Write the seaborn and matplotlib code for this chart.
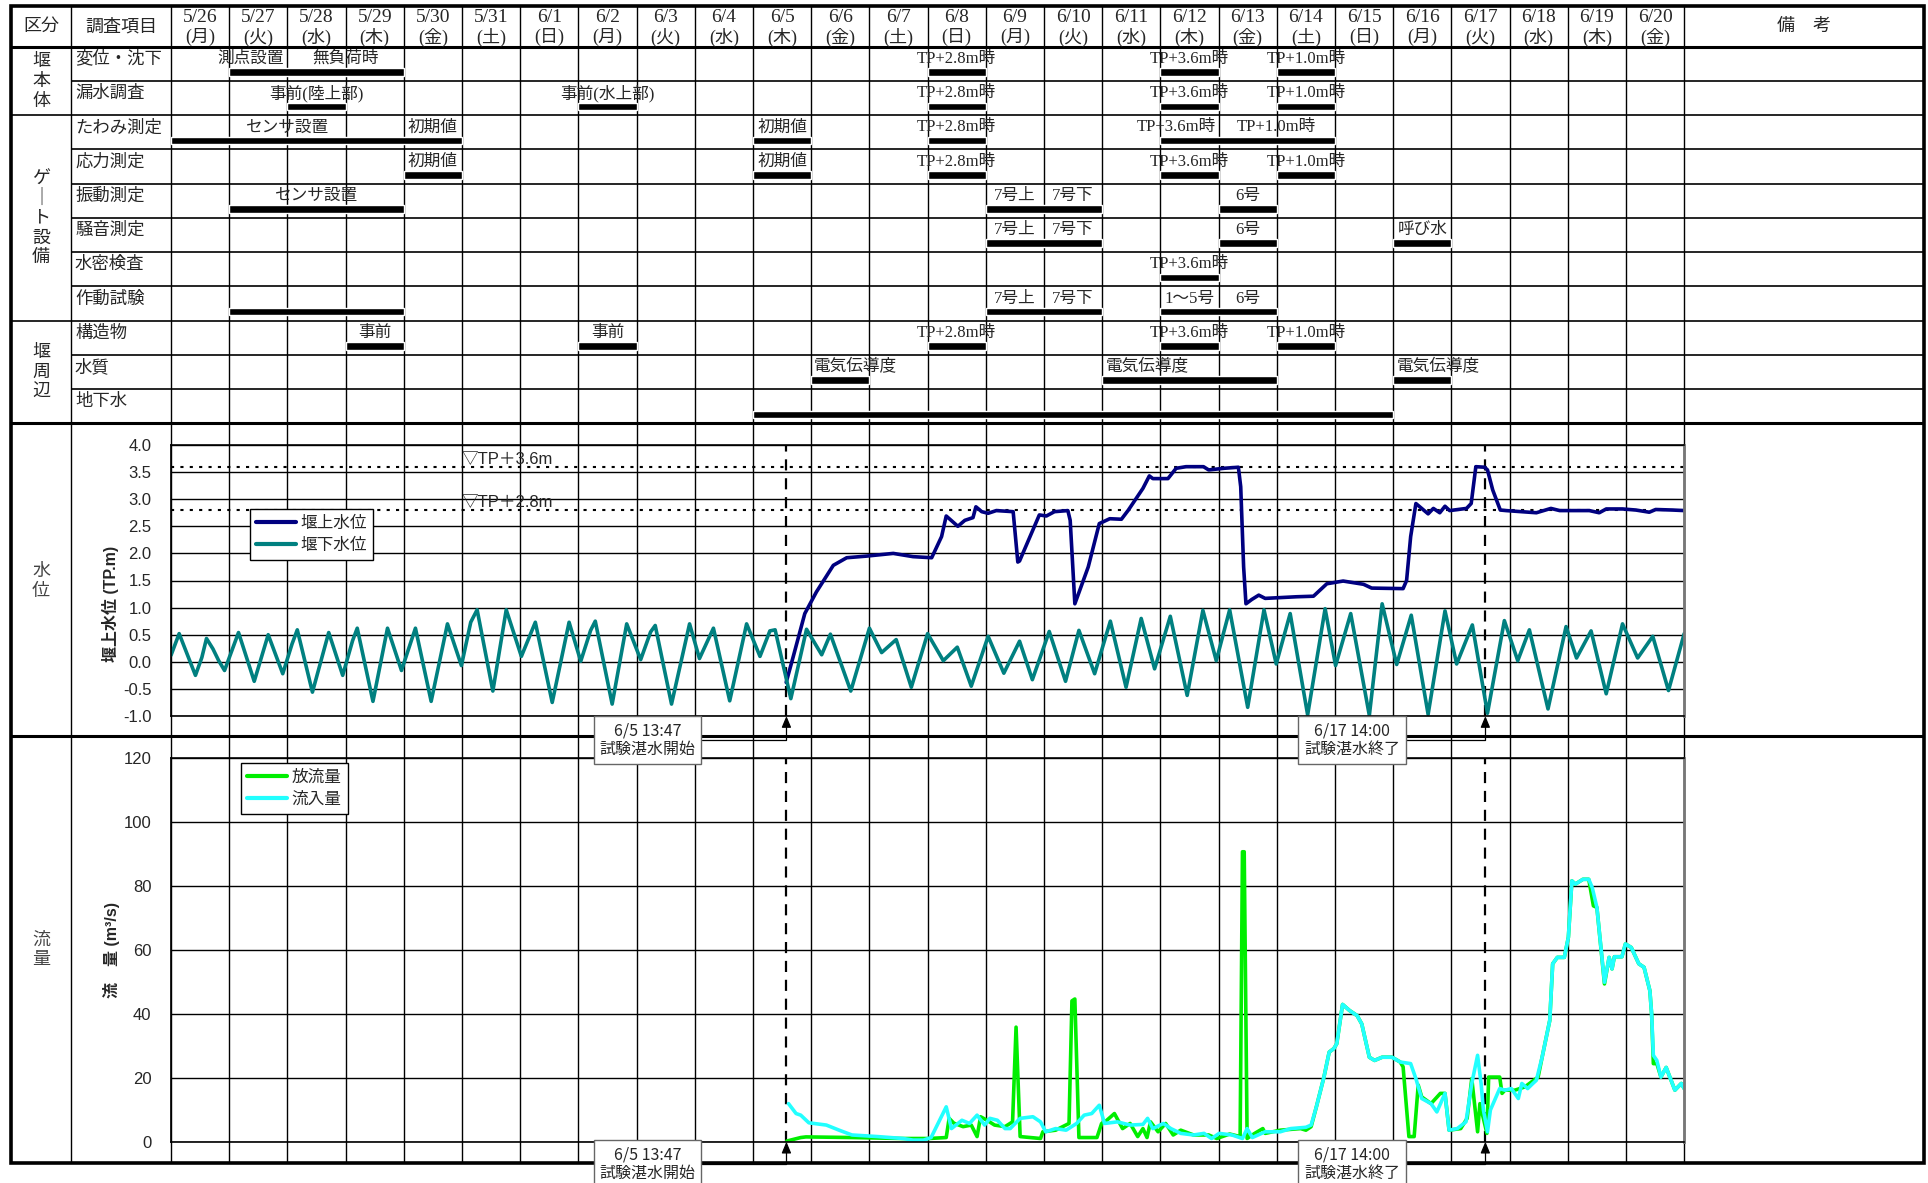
import numpy as np
import pandas as pd
import matplotlib
matplotlib.use("Agg")
import matplotlib.pyplot as plt
import seaborn as sns

# ---------------- data ----------------
dates = ["5/26", "5/27", "5/28", "5/29", "5/30", "5/31", "6/1", "6/2", "6/3", "6/4",
         "6/5", "6/6", "6/7", "6/8", "6/9", "6/10", "6/11", "6/12", "6/13", "6/14",
         "6/15", "6/16", "6/17", "6/18", "6/19", "6/20"]
weekdays = list("月火水木金土日" * 4)[:len(dates)]

groups = [("堰\n本\n体", 0, 2), ("ゲ\n｜\nト\n設\n備", 2, 8), ("堰\n周\n辺", 8, 11)]
items = ["変位・沈下", "漏水調査", "たわみ測定", "応力測定", "振動測定", "騒音測定",
         "水密検査", "作動試験", "構造物", "水質", "地下水"]

# (row, first day, last day) counted in days from 5/26 0:00
task_bars = [
    (0, 1, 4), (0, 13, 14), (0, 17, 18), (0, 19, 20),
    (1, 2, 3), (1, 7, 8), (1, 13, 14), (1, 17, 18), (1, 19, 20),
    (2, 0, 5), (2, 10, 11), (2, 13, 14), (2, 17, 20),
    (3, 4, 5), (3, 10, 11), (3, 13, 14), (3, 17, 18), (3, 19, 20),
    (4, 1, 4), (4, 14, 16), (4, 18, 19),
    (5, 14, 16), (5, 18, 19), (5, 21, 22),
    (6, 17, 18),
    (7, 1, 4), (7, 14, 16), (7, 17, 19),
    (8, 3, 4), (8, 7, 8), (8, 13, 14), (8, 17, 18), (8, 19, 20),
    (9, 11, 12), (9, 16, 19), (9, 21, 22),
    (10, 10, 21),
]
task_notes = [
    (0, 1.36, "測点設置"), (0, 3.0, "無負荷時"), (0, 13.5, "TP+2.8m時"), (0, 17.5, "TP+3.6m時"), (0, 19.5, "TP+1.0m時"),
    (1, 2.5, "事前(陸上部)"), (1, 7.5, "事前(水上部)"), (1, 13.5, "TP+2.8m時"), (1, 17.5, "TP+3.6m時"), (1, 19.5, "TP+1.0m時"),
    (2, 2.0, "センサ設置"), (2, 4.5, "初期値"), (2, 10.5, "初期値"), (2, 13.5, "TP+2.8m時"), (2, 17.27, "TP+3.6m時"), (2, 19.0, "TP+1.0m時"),
    (3, 4.5, "初期値"), (3, 10.5, "初期値"), (3, 13.5, "TP+2.8m時"), (3, 17.5, "TP+3.6m時"), (3, 19.5, "TP+1.0m時"),
    (4, 2.5, "センサ設置"), (4, 14.5, "7号上"), (4, 15.5, "7号下"), (4, 18.5, "6号"),
    (5, 14.5, "7号上"), (5, 15.5, "7号下"), (5, 18.5, "6号"), (5, 21.5, "呼び水"),
    (6, 17.5, "TP+3.6m時"),
    (7, 14.5, "7号上"), (7, 15.5, "7号下"), (7, 17.5, "1～5号"), (7, 18.5, "6号"),
    (8, 3.5, "事前"), (8, 7.5, "事前"), (8, 13.5, "TP+2.8m時"), (8, 17.5, "TP+3.6m時"), (8, 19.5, "TP+1.0m時"),
    (9, 11.75, "電気伝導度"), (9, 16.77, "電気伝導度"), (9, 21.78, "電気伝導度"),
]

# water level (TP.m), (day, value)
downstream = [
    (0.00, 0.12), (0.14, 0.52), (0.42, -0.25), (0.53, 0.08), (0.61, 0.43), (0.72, 0.24), (0.82, 0.02),
    (0.92, -0.16), (1.16, 0.54), (1.43, -0.36), (1.67, 0.50), (1.92, -0.22), (2.08, 0.33), (2.17, 0.59),
    (2.43, -0.56), (2.71, 0.54), (2.95, -0.25), (3.12, 0.39), (3.20, 0.62), (3.47, -0.73), (3.72, 0.62),
    (3.96, -0.16), (4.20, 0.62), (4.47, -0.73), (4.75, 0.70), (4.99, -0.07), (5.15, 0.73), (5.26, 0.96),
    (5.53, -0.54), (5.76, 0.96), (6.02, 0.10), (6.26, 0.73), (6.55, -0.75), (6.84, 0.73), (7.04, 0.01),
    (7.21, 0.58), (7.29, 0.75), (7.58, -0.78), (7.83, 0.70), (8.07, 0.04), (8.24, 0.55), (8.32, 0.67),
    (8.60, -0.78), (8.91, 0.70), (9.08, 0.06), (9.32, 0.62), (9.60, -0.72), (9.89, 0.70), (10.12, 0.10),
    (10.29, 0.57), (10.38, 0.59), (10.65, -0.68), (10.92, 0.60), (11.18, 0.13), (11.33, 0.51),
    (11.68, -0.54), (12.00, 0.62), (12.21, 0.17), (12.46, 0.41), (12.72, -0.47), (13.00, 0.52),
    (13.27, 0.02), (13.51, 0.27), (13.75, -0.45), (14.04, 0.47), (14.31, -0.21), (14.58, 0.38),
    (14.80, -0.33), (15.09, 0.56), (15.37, -0.36), (15.60, 0.58), (15.87, -0.22), (16.14, 0.75),
    (16.41, -0.47), (16.67, 0.80), (16.90, -0.13), (17.17, 0.84), (17.46, -0.62), (17.73, 0.95),
    (17.96, 0.02), (18.19, 0.96), (18.50, -0.84), (18.78, 0.96), (18.99, -0.04), (19.23, 0.89),
    (19.53, -0.98), (19.83, 0.98), (20.01, -0.07), (20.27, 0.89), (20.59, -0.99), (20.81, 1.07),
    (21.06, -0.05), (21.31, 0.86), (21.60, -0.97), (21.89, 0.94), (22.09, -0.04), (22.36, 0.68),
    (22.62, -0.95), (22.91, 0.76), (23.14, 0.02), (23.34, 0.59), (23.66, -0.87), (23.97, 0.65),
    (24.15, 0.07), (24.40, 0.57), (24.66, -0.59), (24.94, 0.70), (25.20, 0.07), (25.46, 0.47),
    (25.73, -0.53), (26.00, 0.52),
]
upstream = [
    (10.57, -0.38), (10.69, 0.09), (10.89, 0.89), (11.09, 1.29), (11.38, 1.78), (11.61, 1.92),
    (11.95, 1.95), (12.41, 2.00), (12.75, 1.94), (13.07, 1.92), (13.24, 2.31), (13.32, 2.69),
    (13.52, 2.50), (13.64, 2.61), (13.78, 2.66), (13.83, 2.86), (13.93, 2.77), (14.04, 2.74),
    (14.18, 2.79), (14.47, 2.77), (14.55, 1.84), (14.58, 1.86), (14.92, 2.71), (15.04, 2.69),
    (15.18, 2.77), (15.41, 2.79), (15.45, 2.61), (15.53, 1.07), (15.76, 1.75), (15.95, 2.55),
    (16.13, 2.64), (16.33, 2.63), (16.45, 2.80), (16.70, 3.20), (16.81, 3.43), (16.87, 3.38),
    (17.13, 3.38), (17.27, 3.57), (17.44, 3.60), (17.74, 3.60), (17.83, 3.54), (18.09, 3.57),
    (18.34, 3.59), (18.38, 3.23), (18.43, 1.75), (18.47, 1.07), (18.57, 1.15), (18.69, 1.23),
    (18.80, 1.17), (19.34, 1.20), (19.63, 1.21), (19.86, 1.44), (20.14, 1.49), (20.49, 1.43),
    (20.63, 1.36), (21.17, 1.35), (21.23, 1.50), (21.30, 2.31), (21.39, 2.92), (21.60, 2.73),
    (21.69, 2.83), (21.80, 2.75), (21.89, 2.87), (21.97, 2.79), (22.26, 2.83), (22.34, 2.92),
    (22.42, 3.60), (22.57, 3.59), (22.62, 3.54), (22.71, 3.17), (22.84, 2.80), (22.94, 2.79),
    (23.46, 2.75), (23.71, 2.83), (23.86, 2.79), (24.37, 2.79), (24.54, 2.75), (24.66, 2.82),
    (24.94, 2.82), (25.17, 2.80), (25.40, 2.76), (25.51, 2.81), (25.80, 2.80), (26.00, 2.79),
]
ref_levels = [(3.6, "▽TP＋3.6m"), (2.8, "▽TP＋2.8m")]

# discharge (m3/s), (day, value)
outflow = [
    (10.58, 0.2), (10.82, 1.3), (10.91, 1.5), (11.70, 1.3), (12.58, 1.0), (13.02, 1.0), (13.32, 1.3),
    (13.37, 7.3), (13.45, 5.8), (13.61, 4.7), (13.75, 5.2), (13.85, 1.6), (13.91, 7.8), (14.02, 6.7),
    (14.15, 5.2), (14.33, 4.7), (14.46, 6.2), (14.52, 35.8), (14.59, 1.6), (14.94, 1.0), (14.98, 3.1),
    (15.20, 3.6), (15.43, 5.7), (15.48, 44.0), (15.53, 44.6), (15.60, 1.3), (15.91, 1.3), (15.99, 5.7),
    (16.08, 6.7), (16.21, 8.8), (16.35, 4.1), (16.48, 5.7), (16.61, 1.6), (16.70, 4.1), (16.77, 1.3),
    (16.83, 6.2), (16.96, 3.1), (17.09, 5.7), (17.22, 2.1), (17.35, 3.6), (17.57, 2.1), (17.83, 2.1),
    (17.97, 1.0), (18.19, 2.4), (18.37, 1.6), (18.41, 90.6), (18.44, 90.6), (18.49, 1.0), (18.62, 2.6),
    (18.76, 4.1), (18.80, 2.6), (19.06, 3.6), (19.41, 4.1), (19.50, 3.6), (19.59, 4.7), (19.68, 10.9),
    (19.81, 20.2), (19.90, 28.0), (19.98, 29.1), (20.03, 30.6), (20.13, 42.9), (20.25, 41.0),
    (20.38, 39.4), (20.46, 36.8), (20.59, 26.4), (20.68, 25.4), (20.81, 26.4), (20.98, 26.4),
    (21.12, 24.9), (21.17, 23.4), (21.27, 1.6), (21.36, 1.6), (21.43, 17.7), (21.49, 14.0),
    (21.65, 11.9), (21.81, 15.1), (21.89, 15.1), (21.96, 3.6), (22.16, 4.1), (22.27, 7.3),
    (22.35, 19.7), (22.45, 3.1), (22.49, 11.9), (22.61, 2.6), (22.64, 20.2), (22.83, 20.2),
    (22.87, 15.1), (22.92, 16.1), (23.09, 16.1), (23.26, 17.1), (23.49, 20.2), (23.56, 26.5),
    (23.69, 37.9), (23.74, 55.6), (23.82, 57.6), (23.94, 57.6), (24.01, 63.9), (24.07, 81.5),
    (24.13, 80.5), (24.26, 82.0), (24.36, 82.0), (24.44, 73.7), (24.50, 73.2), (24.63, 49.3),
    (24.71, 57.6), (24.76, 54.0), (24.80, 57.8), (24.93, 57.8), (24.99, 61.8), (25.09, 60.7),
    (25.22, 55.6), (25.31, 54.5), (25.41, 47.2), (25.44, 40.0), (25.47, 24.4), (25.53, 24.4),
    (25.60, 20.2), (25.69, 23.2), (25.84, 16.1), (25.95, 18.2), (26.00, 16.6),
]
inflow = [
    (10.61, 11.9), (10.74, 8.8), (10.82, 8.3), (10.96, 5.9), (11.26, 5.2), (11.48, 3.6), (11.70, 2.1),
    (12.14, 1.6), (12.58, 1.0), (12.75, 0.5), (12.93, 0.5), (13.06, 1.3), (13.32, 10.9), (13.41, 4.1),
    (13.59, 6.7), (13.72, 5.7), (13.85, 8.3), (13.98, 5.2), (14.07, 7.3), (14.20, 6.7), (14.33, 4.1),
    (14.42, 4.1), (14.59, 7.3), (14.81, 7.8), (14.94, 6.2), (15.03, 3.1), (15.20, 4.1), (15.38, 3.6),
    (15.56, 5.7), (15.69, 8.3), (15.82, 8.8), (15.95, 11.4), (16.04, 5.7), (16.26, 6.2), (16.48, 5.2),
    (16.70, 5.4), (16.78, 7.3), (16.87, 4.1), (17.05, 5.7), (17.18, 4.1), (17.35, 2.6), (17.57, 2.1),
    (17.75, 2.6), (17.88, 1.0), (18.01, 2.6), (18.23, 2.1), (18.41, 1.0), (18.49, 4.1), (18.58, 1.3),
    (18.80, 3.1), (19.06, 3.1), (19.24, 4.1), (19.50, 4.5), (19.59, 5.2), (19.68, 10.9), (19.81, 20.2),
    (19.90, 28.0), (19.98, 29.1), (20.03, 30.6), (20.13, 42.9), (20.25, 41.0), (20.38, 39.4),
    (20.46, 36.8), (20.59, 26.4), (20.68, 25.4), (20.81, 26.4), (20.98, 26.4), (21.12, 24.9),
    (21.30, 24.4), (21.39, 19.7), (21.49, 13.5), (21.65, 11.9), (21.75, 9.3), (21.89, 15.1),
    (21.96, 3.6), (22.10, 4.1), (22.25, 6.2), (22.35, 18.2), (22.45, 27.0), (22.51, 18.2),
    (22.55, 9.9), (22.62, 3.1), (22.67, 9.9), (22.83, 16.6), (22.92, 16.1), (23.03, 16.6),
    (23.15, 13.5), (23.21, 18.2), (23.31, 16.6), (23.40, 18.2), (23.46, 19.2), (23.56, 26.5),
    (23.69, 37.9), (23.74, 55.6), (23.82, 57.6), (23.94, 57.6), (24.01, 63.9), (24.07, 81.5),
    (24.13, 80.5), (24.26, 82.0), (24.36, 82.0), (24.42, 79.4), (24.50, 73.2), (24.63, 49.8),
    (24.71, 57.6), (24.76, 54.0), (24.80, 57.8), (24.93, 57.8), (24.99, 61.8), (25.09, 60.7),
    (25.22, 55.6), (25.31, 54.5), (25.41, 47.2), (25.44, 40.0), (25.47, 27.0), (25.53, 25.4),
    (25.60, 20.2), (25.69, 23.2), (25.84, 16.1), (25.95, 18.2), (26.00, 16.6),
]

start_t = 10 + (13 * 60 + 47) / 1440   # 6/5 13:47
end_t = 22 + 14 / 24                   # 6/17 14:00
events = [(start_t, "6/5 13:47\n試験湛水開始"), (end_t, "6/17 14:00\n試験湛水終了")]

# ---------------- layout (pixels) ----------------
W, H = 1928, 1183
X_LEFT, X_KUBUN, X0, DAY_W, X_RIGHT = 11, 71, 171, 58.2, 1924
X_END = X0 + DAY_W * len(dates)
Y_TOP, Y_HEAD, ROW_H = 5.7, 46.7, 34.24
Y_TABLE_END, Y_LEVEL_END, Y_BOTTOM = 423.3, 736, 1162.7

SERIF = ["Liberation Serif", "Noto Sans CJK JP"]
JP = ["Noto Sans CJK JP", "DejaVu Sans"]
NARROW = ["Liberation Sans Narrow", "Liberation Sans", "Noto Sans CJK JP", "DejaVu Sans"]
LABEL = ["Liberation Sans", "Noto Sans CJK JP"]

sns.set_theme(style="white")
plt.rcParams["font.family"] = JP


def rect(top, bottom):
    return [X0 / W, 1 - bottom / H, (X_END - X0) / W, (bottom - top) / H]


fig = plt.figure(figsize=(W / 100, H / 100), dpi=100)

# table frame
bg = fig.add_axes([0, 0, 1, 1])
bg.set_xlim(0, W)
bg.set_ylim(H, 0)
bg.axis("off")
bg.vlines(X0 + DAY_W * np.arange(len(dates) + 1), Y_TOP, Y_BOTTOM, color="black", lw=1)
bg.vlines(X_KUBUN, Y_TOP, Y_BOTTOM, color="black", lw=1)
group_edges = {g[1] for g in groups}
for r in range(1, len(items)):
    y = Y_HEAD + r * ROW_H
    bg.hlines(y, X_LEFT if r in group_edges else X_KUBUN, X_RIGHT, color="black", lw=1.2)
bg.hlines([Y_HEAD, Y_TABLE_END, Y_LEVEL_END], X_LEFT, X_RIGHT, color="black", lw=2.2)
bg.add_patch(plt.Rectangle((X_LEFT, Y_TOP), X_RIGHT - X_LEFT, Y_BOTTOM - Y_TOP,
                           fill=False, ec="black", lw=2.6))

head_y = (Y_TOP + Y_HEAD) / 2
bg.text((X_LEFT + X_KUBUN) / 2, head_y, "区分", ha="center", va="center", fontsize=13)
bg.text((X_KUBUN + X0) / 2, head_y, "調査項目", ha="center", va="center", fontsize=13)
bg.text((X_END + X_RIGHT) / 2, head_y, "備　考", ha="center", va="center", fontsize=13)
for k, (d, w) in enumerate(zip(dates, weekdays)):
    cx = X0 + (k + 0.5) * DAY_W
    bg.text(cx, 17, d, ha="center", va="center", fontsize=14, family=SERIF)
    bg.text(cx, 37, f"({w})", ha="center", va="center", fontsize=13, family=SERIF)

for label, r0, r1 in groups:
    bg.text((X_LEFT + X_KUBUN) / 2, Y_HEAD + (r0 + r1) / 2 * ROW_H, label, ha="center",
            va="center", fontsize=13, linespacing=1.12)
for r, name in enumerate(items):
    bg.text(X_KUBUN + 4, Y_HEAD + r * ROW_H + 12, name, ha="left", va="center", fontsize=12.5)
bg.text((X_LEFT + X_KUBUN) / 2, 581, "水\n位", ha="center", va="center", fontsize=13,
        color="#444444", linespacing=1.1)
bg.text((X_LEFT + X_KUBUN) / 2, 949, "流\n量", ha="center", va="center", fontsize=13,
        color="#444444", linespacing=1.1)

# schedule bars
ax_t = fig.add_axes(rect(Y_HEAD, Y_TABLE_END))
ax_t.set_xlim(0, len(dates))
ax_t.set_ylim(len(items), 0)
ax_t.axis("off")
for row, s, e in task_bars:
    ax_t.barh(row + 0.74, e - s, left=s, height=0.22, color="black")
for row, c, txt in task_notes:
    ax_t.text(c, row + 0.36, txt, ha="center", va="center", fontsize=12, family=SERIF)

# water level
level_df = pd.concat([
    pd.DataFrame(upstream, columns=["day", "level"]).assign(series="堰上水位"),
    pd.DataFrame(downstream, columns=["day", "level"]).assign(series="堰下水位"),
])
ax_w = fig.add_axes(rect(445, 716))
ax_w.patch.set_alpha(0)
sns.lineplot(data=level_df, x="day", y="level", hue="series", hue_order=["堰上水位", "堰下水位"],
             palette=["#000080", "#008080"], estimator=None, sort=False, lw=2.6,
             solid_joinstyle="round", ax=ax_w)
ax_w.set_xlim(0, len(dates))
ax_w.set_ylim(-1.0, 4.0)
ax_w.set_yticks(np.arange(-1.0, 4.01, 0.5))
ax_w.set_yticklabels([f"{v:.1f}" for v in np.arange(-1.0, 4.01, 0.5)])
for lvl, txt in ref_levels:
    ax_w.axhline(lvl, color="black", ls=(0, (1.5, 3)), lw=1.5, zorder=1)
    ax_w.text(5.0, lvl + 0.14, txt, ha="left", va="center", fontsize=12, family=NARROW)
ax_w.set_ylabel("堰上水位 (TP.m)", fontsize=11.5, fontweight="bold", family=LABEL)
ax_w.yaxis.set_label_coords((119 - X0) / (X_END - X0), (716 - 604) / 271)

# discharge
flow_df = pd.concat([
    pd.DataFrame(outflow, columns=["day", "flow"]).assign(series="放流量"),
    pd.DataFrame(inflow, columns=["day", "flow"]).assign(series="流入量"),
])
ax_f = fig.add_axes(rect(757.7, 1141.7))
ax_f.patch.set_alpha(0)
sns.lineplot(data=flow_df, x="day", y="flow", hue="series", hue_order=["放流量", "流入量"],
             palette=["#00ee00", "#22ffff"], estimator=None, sort=False, lw=2.6,
             solid_joinstyle="round", ax=ax_f)
ax_f.set_xlim(0, len(dates))
ax_f.set_ylim(0, 120)
ax_f.set_yticks(np.arange(0, 121, 20))
ax_f.set_yticklabels([f"{v:d}" for v in range(0, 121, 20)])
ax_f.set_ylabel("流　量 (m³/s)", fontsize=11.5, fontweight="bold", family=LABEL)
ax_f.yaxis.set_label_coords((120 - X0) / (X_END - X0), (1141.7 - 950) / 384)

legend_spots = [(ax_w, 250, 509), (ax_f, 241, 763)]
for ax, lx, ly in legend_spots:
    ax.set_xlabel("")
    ax.set_xticks([])
    ax.grid(axis="y", color="black", lw=1)
    ax.tick_params(axis="y", length=0, pad=14, labelsize=12)
    for lab in ax.get_yticklabels():
        lab.set_family(NARROW)
    for side in ["left", "bottom", "top"]:
        ax.spines[side].set_color("black")
        ax.spines[side].set_linewidth(1.2)
    ax.spines["right"].set_color("#777777")
    ax.spines["right"].set_linewidth(2)
    for t, _ in events:
        ax.axvline(t, color="black", ls=(0, (5, 3.5)), lw=1.6, zorder=1)
    sns.move_legend(ax, "upper left", bbox_to_anchor=(lx / W, 1 - ly / H), bbox_transform=fig.transFigure,
                    title=None, frameon=True, fancybox=False, edgecolor="black", framealpha=1,
                    borderaxespad=0, borderpad=0.35, labelspacing=0.3, handlelength=2.4,
                    handletextpad=0.3, prop={"family": JP, "size": 12})
    leg = ax.get_legend()
    leg.get_frame().set_linewidth(1)
    for h in leg.legend_handles:
        h.set_linewidth(3)

# start / end markers
ann_style = dict(textcoords="figure pixels", ha="center", va="center", fontsize=11.5,
                 family=JP, linespacing=1.15, annotation_clip=False, zorder=10,
                 bbox=dict(boxstyle="square,pad=0.35", fc="white", ec="#666666", lw=1),
                 arrowprops=dict(arrowstyle="-|>,head_length=0.6,head_width=0.25", color="black",
                                 lw=0.9, shrinkA=0, shrinkB=0,
                                 connectionstyle="angle,angleA=0,angleB=90,rad=0"))
box_centers = [647.5, 1352]
for (t, label), bx in zip(events, box_centers):
    ax_f.annotate(label, xy=(t, -1.0), xycoords=ax_w.transData, xytext=(bx, H - 740), **ann_style)
    ax_f.annotate(label, xy=(t, 0), xycoords="data", xytext=(bx, H - 1164), **ann_style)

fig.savefig("out.png", dpi=100)
